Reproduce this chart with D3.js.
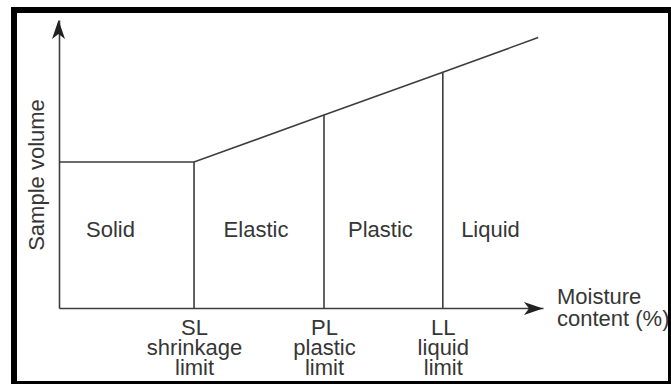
<!DOCTYPE html>
<html>
<head>
<meta charset="utf-8">
<script src="https://cdn.jsdelivr.net/npm/d3@7"></script>
<style>
  html, body { margin: 0; padding: 0; background: #fff; }
  svg { display: block; }
  text { font-family: "Liberation Sans", Arial, sans-serif; }
</style>
</head>
<body>
<svg id="chart" width="671" height="384"></svg>
<script>
// Consistency limits of a soil: moisture content at each limit (arbitrary % scale)
const limitCodes = ["SL", "PL", "LL"];
const limitNames = ["shrinkage", "plastic", "liquid"];
const limitMoisture = [27.9, 54.75, 79.3];
// Sample volume reached at each limit
const limitVolume = [50.7, 67.0, 81.9];

// Volume curve: constant while solid, then rising linearly
const curveMoisture = [0, 27.9, 54.75, 79.3, 99.0];
const curveVolume = [50.7, 50.7, 67.0, 81.9, 93.9];

// States between the limits
const states = ["Solid", "Elastic", "Plastic", "Liquid"];

const xTitle = ["Moisture", "content (%)"];
const yTitle = "Sample volume";

const W = 671, H = 384;
const ink = "#3d3d3d";
const textInk = "#363636";
const fontSize = 22;

const svg = d3.select("#chart");

svg.append("rect").attr("width", W).attr("height", H).attr("fill", "#fff");

const x = d3.scaleLinear().domain([0, 100]).range([59, 543]);
const y = d3.scaleLinear().domain([0, 100]).range([308, 20]);

const plot = svg.append("g");

// Axes (no numeric ticks)
const xAxis = plot.append("g")
  .attr("transform", `translate(0,${y(0)})`)
  .call(d3.axisBottom(x).tickValues(limitMoisture).tickSize(0).tickSizeOuter(0).tickFormat(""));
xAxis.select(".domain").attr("stroke", ink).attr("stroke-width", 1.6);

xAxis.selectAll(".tick text").remove();
xAxis.selectAll(".tick").each(function (d, i) {
  const t = d3.select(this).append("text")
    .attr("fill", textInk)
    .attr("font-size", fontSize)
    .attr("text-anchor", "middle")
    .attr("y", 27);
  t.append("tspan").attr("x", 0).attr("dy", 0).text(limitCodes[i]);
  t.append("tspan").attr("x", 0).attr("dy", 20).text(limitNames[i]);
  t.append("tspan").attr("x", 0).attr("dy", 20).text("limit");
});

const yAxis = plot.append("g")
  .attr("transform", `translate(${x(0)},0)`)
  .call(d3.axisLeft(y).tickValues([]).tickSizeOuter(0));
yAxis.select(".domain").attr("stroke", ink).attr("stroke-width", 1.6);

// Arrowheads at the axis ends
const arrow = "M0,0 L-19,-6.5 L-14,0 L-19,6.5 Z";
plot.append("path")
  .attr("d", arrow)
  .attr("fill", "#222")
  .attr("transform", `translate(${x(100)},${y(0) + 0.5}) rotate(0)`);
plot.append("path")
  .attr("d", arrow)
  .attr("fill", "#222")
  .attr("transform", `translate(${x(0) - 0.5},${y(100)}) rotate(-90)`);

// Volume curve
const pts = curveMoisture.map((m, i) => [m, curveVolume[i]]);
plot.append("path")
  .datum(pts)
  .attr("fill", "none")
  .attr("stroke", ink)
  .attr("stroke-width", 1.6)
  .attr("d", d3.line().x(d => x(d[0])).y(d => y(d[1])));

// Vertical lines at each limit
plot.selectAll("line.limit")
  .data(limitMoisture)
  .join("line")
  .attr("class", "limit")
  .attr("x1", d => x(d)).attr("x2", d => x(d))
  .attr("y1", y(0)).attr("y2", (d, i) => y(limitVolume[i]))
  .attr("stroke", ink)
  .attr("stroke-width", 1.6);

// State labels, centred in each zone
const bounds = [0, ...limitMoisture, curveMoisture[curveMoisture.length - 1]];
const labelNudge = [-16, -3, -3, 0];
const labelLevel = 24.7;
plot.selectAll("text.state")
  .data(states)
  .join("text")
  .attr("class", "state")
  .attr("x", (d, i) => (x(bounds[i]) + x(bounds[i + 1])) / 2 + labelNudge[i])
  .attr("y", y(labelLevel))
  .attr("text-anchor", "middle")
  .attr("font-size", fontSize)
  .attr("fill", textInk)
  .text(d => d);

// Axis titles
plot.append("text")
  .attr("transform", `translate(44,${(y(0) + y(100)) / 2 + 11}) rotate(-90)`)
  .attr("text-anchor", "middle")
  .attr("font-size", fontSize)
  .attr("fill", textInk)
  .text(yTitle);

const xt = plot.append("text")
  .attr("font-size", fontSize)
  .attr("fill", textInk)
  .attr("y", 304);
xTitle.forEach((s, i) => {
  xt.append("tspan").attr("x", 557).attr("dy", i ? 22 : 0).text(s);
});

// Frame
const frame = svg.append("path")
  .attr("fill", "#000")
  .attr("fill-rule", "evenodd")
  .attr("d", `M11,7H${W}V${H}H11Z M17,13V381H668V13Z`);
</script>
</body>
</html>
